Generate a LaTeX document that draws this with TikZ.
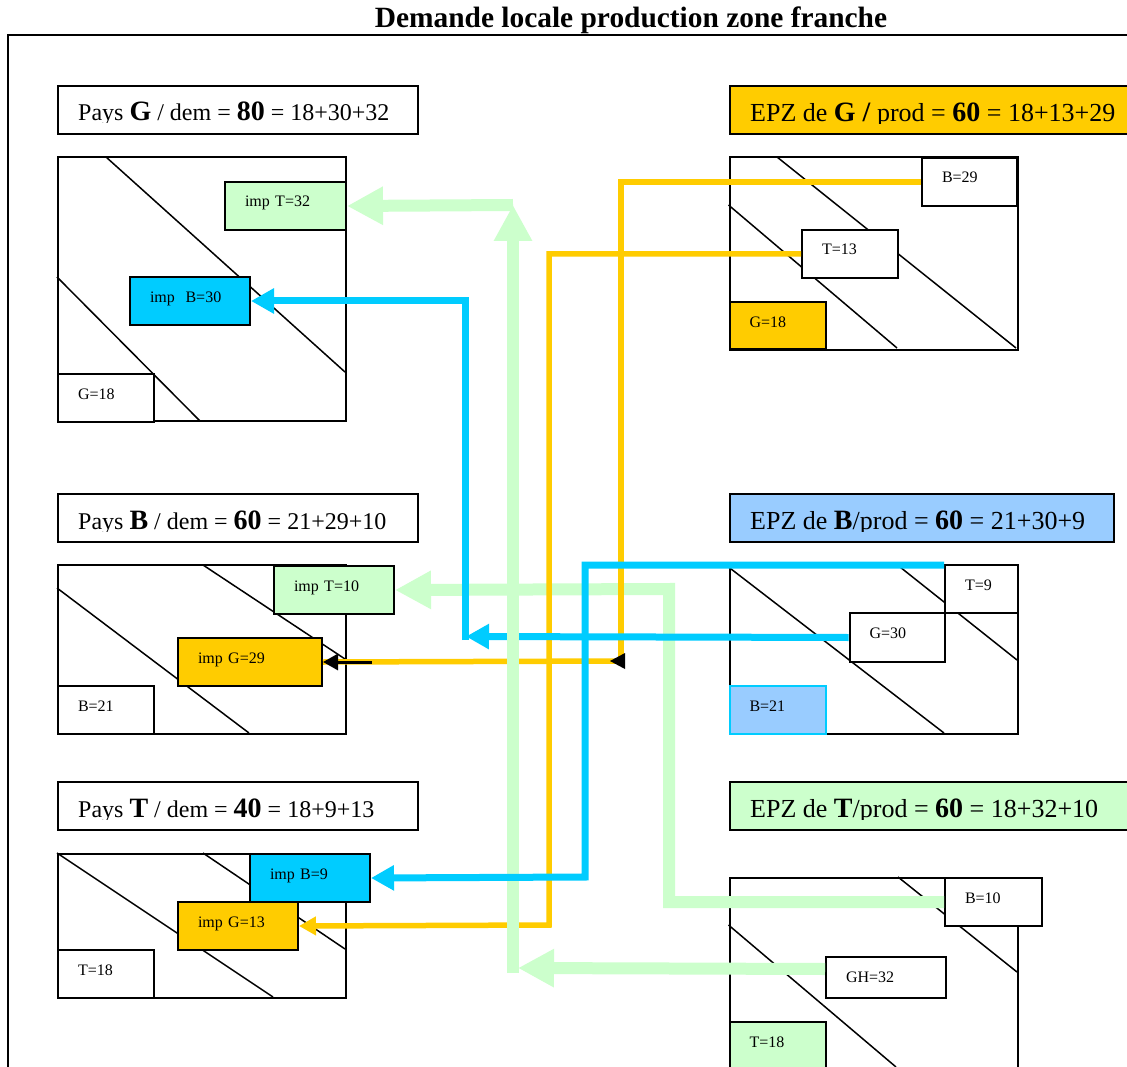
\documentclass[tikz,border=0pt]{standalone}
\usepackage{fontspec}
\setmainfont{Liberation Serif}
\usetikzlibrary{arrows.meta}
\definecolor{ygold}{HTML}{FFCC00}
\definecolor{bcyan}{HTML}{00CCFF}
\definecolor{blight}{HTML}{99CCFF}
\definecolor{glight}{HTML}{CCFFCC}
\newcommand\cellfont{\fontsize{16}{16}\selectfont}
\newcommand\hdrfont{\fontsize{24}{24}\selectfont}
\newcommand\epzfont{\fontsize{26}{26}\selectfont}
\newcommand\bigb[1]{{\fontsize{28}{28}\selectfont\bfseries #1}}
\newcommand\titlefont{\fontsize{29.4}{30}\selectfont\bfseries}
\begin{document}
\begin{tikzpicture}[x=1pt,y=-1pt,line join=miter,
  hdr/.style={draw=black, line width=2pt, anchor=north west, inner sep=0pt, minimum height=48pt},
  hdrtext/.style={anchor=base west, inner sep=0pt},
  mat/.style={draw=black, line width=2pt, anchor=north west, inner sep=0pt},
  diag/.style={draw=black, line width=1.5pt},
  cell/.style={draw=black, line width=2pt, fill=white, anchor=north west, inner xsep=20pt, inner ysep=0pt, text height=25pt, align=left, font=\cellfont},
  gconn/.style={draw=glight, line width=12pt},
  gtip/.style={-{Triangle[length=36pt,width=36pt]}},
  bconn/.style={draw=bcyan, line width=7pt},
  btip/.style={-{Triangle[length=23pt,width=24pt]}},
  yconn/.style={draw=ygold, line width=5.5pt},
  ytip/.style={-{Triangle[length=17pt,width=18pt]}}]
\useasboundingbox (0,0) rectangle (1127,1067);
\clip (0,0) rectangle (1127,1067);
\fill[white] (0,0) rectangle (1127,1067);
% frame and title
\draw[line width=2pt] (8,1100) -- (8,35) -- (1140,35);
\node[font=\titlefont, anchor=base, inner sep=0pt] (title) at (631,28) {Demande locale production zone franche};
% headers
\node[hdr, fill=white, minimum width=360pt] (hG) at (57,85) {};
\node[hdr, fill=white, minimum width=360pt] (hB) at (57,493) {};
\node[hdr, fill=white, minimum width=360pt] (hT) at (57,781) {};
\node[hdr, fill=ygold, minimum width=430pt] (eG) at (728.5,85) {};
\node[hdr, fill=blight, minimum width=384.5pt] (eB) at (728.5,493) {};
\node[hdr, fill=glight, minimum width=430pt] (eT) at (728.5,781) {};
\begin{scope}
\clip (hG.north west) rectangle ([yshift=12pt]hG.south east);
\node[hdrtext, font=\hdrfont] (hGt) at ([shift={(21,36)}]hG.north west) {Pays \bigb{G} / dem = \bigb{80} = 18+30+32};
\end{scope}
\begin{scope}
\clip (hB.north west) rectangle ([yshift=12pt]hB.south east);
\node[hdrtext, font=\hdrfont] (hBt) at ([shift={(21,36)}]hB.north west) {Pays \bigb{B} / dem = \bigb{60} = 21+29+10};
\end{scope}
\begin{scope}
\clip (hT.north west) rectangle ([yshift=12pt]hT.south east);
\node[hdrtext, font=\hdrfont] (hTt) at ([shift={(21,36)}]hT.north west) {Pays \bigb{T} / dem = \bigb{40} = 18+9+13};
\end{scope}
\begin{scope}
\clip (eG.north west) rectangle ([yshift=11.5pt]eG.south east);
\node[hdrtext, font=\epzfont] (eGt) at ([shift={(21.5,36.5)}]eG.north west) {EPZ de \bigb{G /} prod = \bigb{60} = 18+13+29};
\end{scope}
\begin{scope}
\clip (eB.north west) rectangle ([yshift=11.5pt]eB.south east);
\node[hdrtext, font=\epzfont] (eBt) at ([shift={(21.5,36.5)}]eB.north west) {EPZ de \bigb{B}/prod = \bigb{60} = 21+30+9};
\end{scope}
\begin{scope}
\clip (eT.north west) rectangle ([yshift=11.5pt]eT.south east);
\node[hdrtext, font=\epzfont] (eTt) at ([shift={(21.5,36.5)}]eT.north west) {EPZ de \bigb{T}/prod = \bigb{60} = 18+32+10};
\end{scope}
% matrices
\node[mat, minimum width=288pt, minimum height=264pt] (mG) at (57,156) {};
\node[mat, minimum width=288pt, minimum height=169pt] (mB) at (57,564) {};
\node[mat, minimum width=288pt, minimum height=144pt] (mT) at (57,853) {};
\node[mat, minimum width=288.5pt, minimum height=193pt] (nG) at (728.5,156) {};
\node[mat, minimum width=288.5pt, minimum height=169pt] (nB) at (728.5,564) {};
\node[mat, minimum width=288.5pt, minimum height=240pt] (nT) at (728.5,877) {};
% diagonals
\draw[diag] (106,157) -- (345,372);
\draw[diag] (57,277) -- (200,421);
\draw[diag] (203,565) -- (345,659);
\draw[diag] (57,588) -- (249,733);
\draw[diag] (57,853) -- (273,997);
\draw[diag] (203,853) -- (345,949);
\draw[diag] (777,157) -- (1016,348);
\draw[diag] (728.5,205) -- (897,348);
\draw[diag] (728.5,567) -- (944,733);
\draw[diag] (900,567) -- (1017,660);
\draw[diag] (898,877) -- (1017,972);
\draw[diag] (728.5,925) -- (896,1067);
% cells
\node[cell, fill=glight, text width=81pt, text depth=23pt] (impT32) at (224,181) {imp T=32};
\node[cell, fill=bcyan, text width=80pt, text depth=23pt] (impB30) at (129,276) {imp\ \ B=30};
\node[cell, text width=56pt, text depth=23pt] (Ga) at (57,373) {G=18};
\node[cell, fill=glight, text width=80pt, text depth=23pt] (impT10) at (273,565) {imp T=10};
\node[cell, fill=ygold, text width=104pt, text depth=23pt] (impG29) at (177,637) {imp G=29};
\node[cell, text width=56pt, text depth=23pt] (Ba) at (57,685) {B=21};
\node[cell, fill=bcyan, text width=80pt, text depth=23pt] (impB9) at (249,853) {imp B=9};
\node[cell, fill=ygold, text width=80pt, text depth=23pt] (impG13) at (177,901) {imp G=13};
\node[cell, text width=56pt, text depth=23pt] (Ta) at (57,949) {T=18};
\node[cell, text width=55pt, text depth=23pt] (B29) at (921,157) {B=29};
\node[cell, text width=56pt, text depth=23pt] (T13) at (801,229) {T=13};
\node[cell, fill=ygold, text width=56.5pt, text depth=22pt] (Gb) at (728.5,301) {G=18};
\node[cell, text width=33pt, text depth=23pt] (T9) at (944,564) {T=9};
\node[cell, text width=55.5pt, text depth=24pt] (G30) at (848.5,612) {G=30};
\node[cell, draw=bcyan, fill=blight, text width=56.5pt, text depth=23pt] (Bb) at (728.5,685) {B=21};
\node[cell, text width=57pt, text depth=23pt] (B10) at (944,877) {B=10};
\node[cell, text width=80pt, text depth=16pt] (GH32) at (825,956) {GH=32};
\node[cell, fill=glight, text width=56.5pt, text depth=23pt] (Tb) at (728.5,1021) {T=18};
% connectors
\coordinate (gTc) at (669,589);
\draw[gconn, gtip] (B10.west) -| (gTc) -- (impT10.east);
\coordinate (yc1) at (621,661);
\draw[yconn] (B29.west) -| (yc1);
\draw[yconn] (yc1) -- (impG29.east);
\fill[black] (625,653) -- (610,661) -- (625,669) -- cycle;
\draw[black, line width=3pt, -{Triangle[length=15pt,width=16pt]}] ([xshift=49pt]impG29.east) -- (impG29.east);
\coordinate (yc2) at (549,925);
\draw[yconn, ytip] (T13.west) -| (yc2) -- (impG13.east);
\coordinate (bt) at (466,636.5);
\draw[bconn, btip] (G30.west) -- (bt);
\coordinate (bv) at (465,640);
\draw[bconn, btip] (bv) |- (impB30.east);
\coordinate (gh1) at (518,968);
\draw[gconn, gtip] ([yshift=8.5pt]GH32.west) -- (gh1);
\coordinate (gv0) at (513,973);
\coordinate (gv1) at (513,205);
\draw[gconn, gtip] (gv0) -- (gv1);
\draw[gconn, gtip] (gv1) -- (impT32.east);
\coordinate (bs) at (944,565);
\coordinate (bc) at (585,877);
\draw[bconn, btip] (bs) -| (bc) -- (impB9.east);
\end{tikzpicture}
\end{document}
